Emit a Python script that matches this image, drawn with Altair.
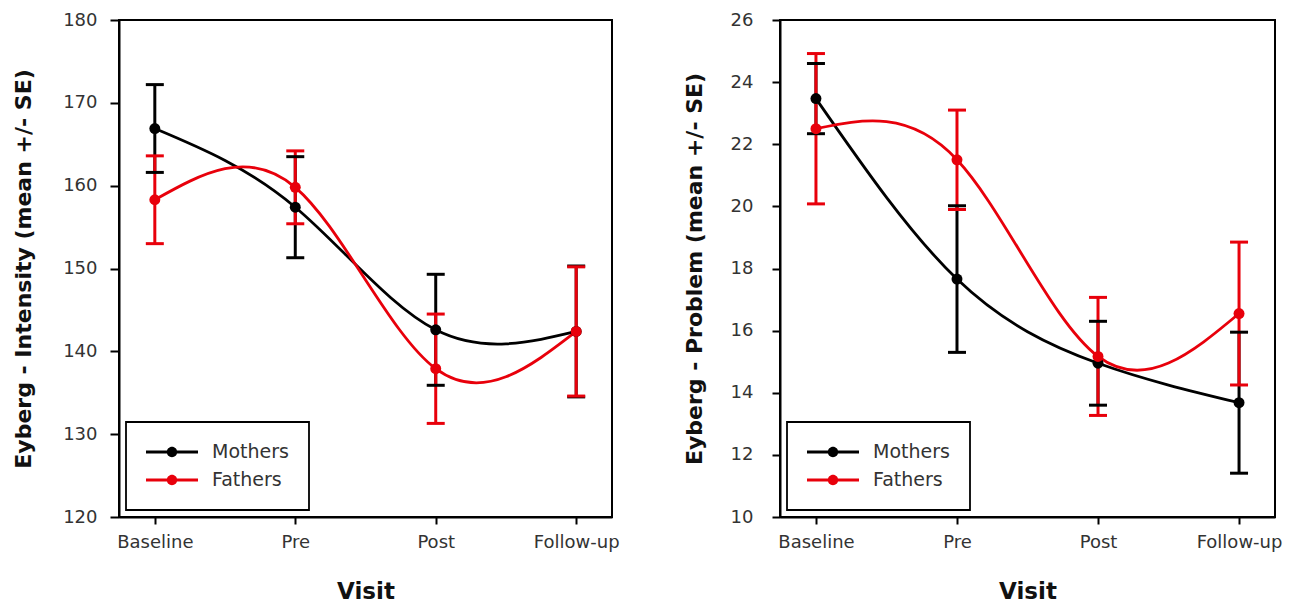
import altair as alt
import pandas as pd

visits = ["Baseline", "Pre", "Post", "Follow-up"]
groups = ["Mothers", "Fathers"]

int_mothers_mean = [166.9, 157.4, 142.6, 142.4]
int_mothers_se = [5.3, 6.1, 6.7, 7.9]
int_fathers_mean = [158.3, 159.8, 137.9, 142.4]
int_fathers_se = [5.3, 4.4, 6.6, 7.8]

prob_mothers_mean = [23.47, 17.66, 14.95, 13.68]
prob_mothers_se = [1.13, 2.36, 1.35, 2.27]
prob_fathers_mean = [22.5, 21.5, 15.17, 16.55]
prob_fathers_se = [2.42, 1.6, 1.9, 2.3]

RED = "#e8000b"
FONT = "DejaVu Sans"
LEG_PATH = ("M-1,-0.055L1,-0.055L1,0.055L-1,0.055Z"
            "M0.2,0A0.2,0.2,0,1,1,-0.2,0A0.2,0.2,0,1,1,0.2,0Z")


def table(m_mean, m_se, f_mean, f_se):
    rows = []
    for g, means, ses in (("Mothers", m_mean, m_se), ("Fathers", f_mean, f_se)):
        for v, mu, se in zip(visits, means, ses):
            rows.append({"Visit": v, "Group": g, "mean": mu, "lo": mu - se, "hi": mu + se})
    return pd.DataFrame(rows)


def panel(df, ytitle, ymin, ymax, ystep, width, tick, lab_pad, title_pad):
    legend = alt.Legend(title=None, orient="bottom-left", offset=7,
                        symbolType=LEG_PATH, symbolSize=2704, symbolStrokeWidth=0,
                        symbolOpacity=1, labelFontSize=19, labelColor="#333333",
                        labelOffset=14, padding=20, rowPadding=8,
                        strokeColor="black", fillColor="white", clipHeight=20)
    color = alt.Color("Group:N", scale=alt.Scale(domain=groups, range=["black", RED]),
                      legend=legend)
    x = alt.X("Visit:N", sort=visits,
              scale=alt.Scale(type="point", padding=0.255),
              axis=alt.Axis(title="Visit", labelAngle=0, tickSize=7, labelPadding=9,
                            labelFontSize=18, titleFontSize=23, titlePadding=29,
                            labelColor="#333333", titleColor="#111111"))
    yscale = alt.Scale(domain=[ymin, ymax], nice=False, zero=False)
    yaxis = alt.Axis(title=ytitle, values=list(range(ymin, ymax + 1, ystep)),
                     tickSize=tick, labelPadding=lab_pad, labelFontSize=18, titleFontSize=22,
                     titlePadding=title_pad, labelColor="#333333", titleColor="#111111")
    base = alt.Chart(df).encode(x=x, color=color)
    line = base.mark_line(interpolate="natural", strokeWidth=2.8).encode(
        y=alt.Y("mean:Q", scale=yscale, axis=yaxis), detail="Group:N")
    bars = base.mark_rule(strokeWidth=3, opacity=1).encode(
        y=alt.Y("lo:Q", scale=yscale), y2="hi:Q")
    cap_hi = base.mark_tick(size=18, thickness=3, opacity=1).encode(
        y=alt.Y("hi:Q", scale=yscale))
    cap_lo = base.mark_tick(size=18, thickness=3, opacity=1).encode(
        y=alt.Y("lo:Q", scale=yscale))
    pts = base.mark_point(filled=True, size=120, opacity=1).encode(
        y=alt.Y("mean:Q", scale=yscale))
    return alt.layer(line, bars, cap_hi, cap_lo, pts).properties(width=width, height=497)


left = panel(table(int_mothers_mean, int_mothers_se, int_fathers_mean, int_fathers_se),
             "Eyberg - Intensity (mean +/- SE)", 120, 180, 10, 493, 9, 13, 27)
right = panel(table(prob_mothers_mean, prob_mothers_se, prob_fathers_mean, prob_fathers_se),
              "Eyberg - Problem (mean +/- SE)", 10, 26, 2, 495, 8, 19, 24)

chart = alt.hconcat(left, right, spacing=61).resolve_scale(
    color="independent", x="independent", y="independent"
).resolve_legend(color="independent").configure(
    font=FONT, padding={"left": 3, "top": 2, "right": 0, "bottom": 0}
).configure_view(stroke="black", strokeWidth=2).configure_axis(
    domainColor="black", domainWidth=2, tickColor="black", tickWidth=2,
    grid=False, titleFontWeight="bold", labelFont=FONT, titleFont=FONT
).configure_legend(strokeWidth=1.8, labelFont=FONT)

chart.save("out.html", embed_options={"renderer": "svg", "actions": False})
